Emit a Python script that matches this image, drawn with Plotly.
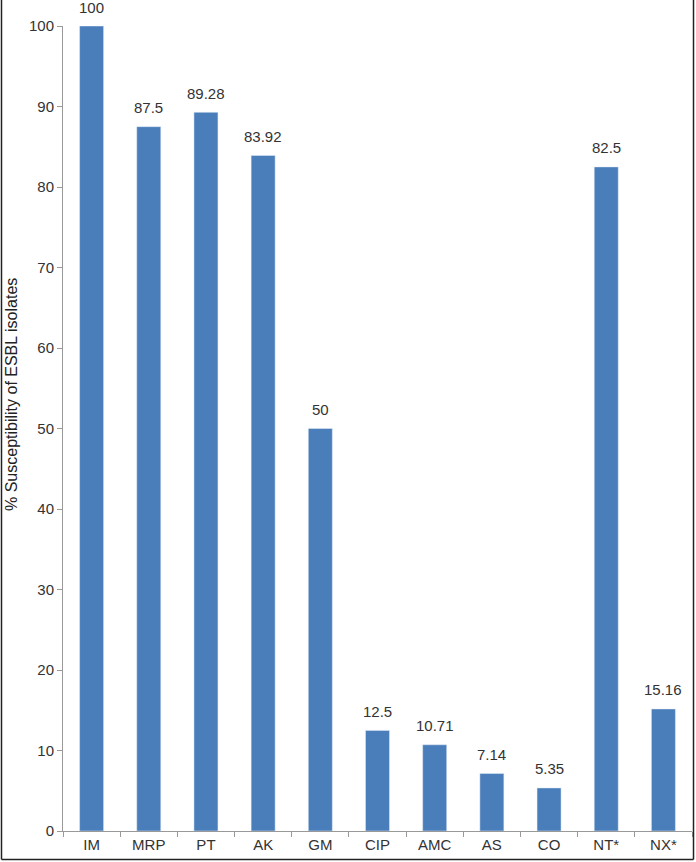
import plotly.graph_objects as go

categories = ["IM", "MRP", "PT", "AK", "GM", "CIP", "AMC", "AS", "CO", "NT*", "NX*"]
values = [100, 87.5, 89.28, 83.92, 50, 12.5, 10.71, 7.14, 5.35, 82.5, 15.16]
labels = ["100", "87.5", "89.28", "83.92", "50", "12.5", "10.71", "7.14", "5.35", "82.5", "15.16"]
y_title = "% Susceptibility of ESBL isolates"

W, H = 696, 862
ml, mr, mt, mb = 63, 4, 26, 31
pw, ph = W - ml - mr, H - mt - mb
FONT = "Liberation Sans, Arial"

fig = go.Figure(go.Bar(x=categories, y=values, marker_color="#4a7ebb", width=0.42))

for c, v, t in zip(categories, values, labels):
    fig.add_annotation(x=c, y=v, text=t, showarrow=False, yshift=19,
                       font=dict(size=15, color="#333333", family=FONT))

fig.add_annotation(xref="paper", yref="paper", x=-(ml - 12) / pw, y=(H - mb - 395) / ph,
                   text=y_title, textangle=-90, showarrow=False,
                   xanchor="center", yanchor="middle",
                   font=dict(size=16, color="#222222", family=FONT))

# frame (left, right, bottom) around the figure
for x0, y0, x1, y1 in [(-(ml - 1.5) / pw, -(mb - 2.5) / ph, -(ml - 1.5) / pw, 1 + mt / ph),
                       (1 + (mr - 2.5) / pw, -(mb - 2.5) / ph, 1 + (mr - 2.5) / pw, 1 + mt / ph),
                       (-(ml - 1.5) / pw, -(mb - 2.5) / ph, 1 + (mr - 2.5) / pw, -(mb - 2.5) / ph)]:
    fig.add_shape(type="line", xref="paper", yref="paper", x0=x0, y0=y0, x1=x1, y1=y1,
                  line=dict(color="#222222", width=1.5))

fig.update_layout(
    width=W, height=H,
    margin=dict(l=ml, r=mr, t=mt, b=mb),
    paper_bgcolor="white", plot_bgcolor="white",
    showlegend=False,
    font=dict(family=FONT, size=15, color="#333333"),
    bargap=0.58,
)
fig.update_xaxes(showline=True, linecolor="#999999", linewidth=1,
                 ticks="outside", tickson="boundaries", ticklen=5, tickcolor="#999999",
                 showgrid=False, tickfont=dict(size=15, color="#333333"))
fig.update_yaxes(range=[0, 100], dtick=10, showline=True, linecolor="#999999", linewidth=1,
                 ticks="outside", ticklen=5, tickcolor="#999999", showgrid=False, zeroline=False,
                 tickfont=dict(size=15, color="#333333"))

fig.write_html("out.html", config={"displayModeBar": False},
               post_script="document.body.style.margin='0';document.body.style.padding='0';")
